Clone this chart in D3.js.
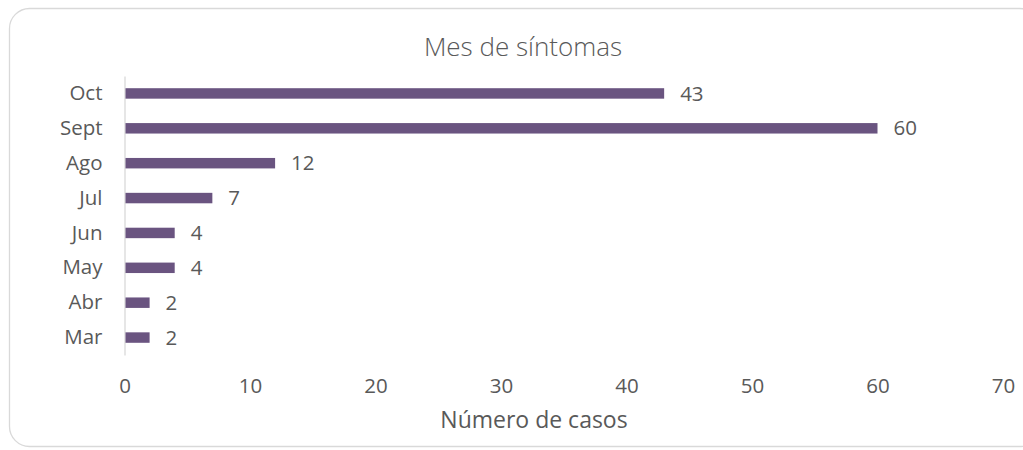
<!DOCTYPE html>
<html>
<head>
  <script src="https://d3js.org/d3.v7.min.js"></script>
  <style>
    body { margin: 0; padding: 0; background: #fff; }
    #chart { width: 1023px; height: 450px; }
    .axis text { font-family: "Open Sans", sans-serif; font-size: 20.5px; fill: #595959; }
    .label { font-family: "Open Sans", sans-serif; font-size: 20.5px; fill: #595959; }
  </style>
</head>
<body>
  <div id="chart"></div>
  <script>
    // data
    var months = ["Oct", "Sept", "Ago", "Jul", "Jun", "May", "Abr", "Mar"];
    var cases = [43, 60, 12, 7, 4, 4, 2, 2];
    var xTicks = [0, 10, 20, 30, 40, 50, 60, 70];

    var rows = months.map(function(m, i) { return {month: m, value: cases[i]}; });

    var width = 1023, height = 450;
    var margin = {top: 76, left: 124, right: 20, bottom: 95};

    var svg = d3.select("#chart").append("svg")
      .attr("width", width)
      .attr("height", height);

    // chart frame
    svg.append("rect")
      .attr("x", 9.5).attr("y", 8.5)
      .attr("width", 1030).attr("height", 438)
      .attr("rx", 20).attr("ry", 20)
      .attr("fill", "#fff")
      .attr("stroke", "#d9d9d9")
      .attr("stroke-width", 1.3);

    var x = d3.scaleLinear()
      .domain([0, 70])
      .range([124.5, 1003]);

    var y = d3.scaleBand()
      .domain(months)
      .range([margin.top, 355])
      .paddingInner(0.7)
      .paddingOuter(0.35);

    // title
    svg.append("text")
      .attr("x", 523)
      .attr("y", 56)
      .attr("text-anchor", "middle")
      .attr("font-family", "'Open Sans', sans-serif")
      .attr("font-weight", 300)
      .attr("font-size", "26px")
      .attr("fill", "#595959")
      .text("Mes de síntomas");

    // x axis (labels only)
    var xAxis = svg.append("g")
      .attr("class", "axis")
      .attr("transform", "translate(0,386)")
      .call(d3.axisBottom(x).tickValues(xTicks).tickSize(0).tickPadding(0));
    xAxis.select(".domain").remove();
    xAxis.selectAll("text").attr("dy", "0.35em").attr("y", 0);

    // y axis
    var yAxis = svg.append("g")
      .attr("class", "axis")
      .attr("transform", "translate(124.5,0)")
      .call(d3.axisLeft(y).tickSize(0).tickPadding(22));
    yAxis.select(".domain").attr("stroke", "#d9d9d9").attr("stroke-width", 1.3);

    // bars
    svg.selectAll(".bar")
      .data(rows)
      .enter()
      .append("rect")
        .attr("class", "bar")
        .attr("x", x(0) + 1)
        .attr("y", function(d) { return y(d.month); })
        .attr("width", function(d) { return x(d.value) - x(0) - 1; })
        .attr("height", y.bandwidth())
        .attr("fill", "#6a5480");

    // value labels
    svg.selectAll(".label")
      .data(rows)
      .enter()
      .append("text")
        .attr("class", "label")
        .attr("x", function(d) { return x(d.value) + 16; })
        .attr("y", function(d) { return y(d.month) + y.bandwidth() / 2; })
        .attr("dy", "0.35em")
        .text(function(d) { return d.value; });

    // axis title
    svg.append("text")
      .attr("class", "label")
      .attr("x", 534)
      .attr("y", 428)
      .attr("text-anchor", "middle")
      .style("font-size", "23px")
      .text("Número de casos");
  </script>
</body>
</html>
